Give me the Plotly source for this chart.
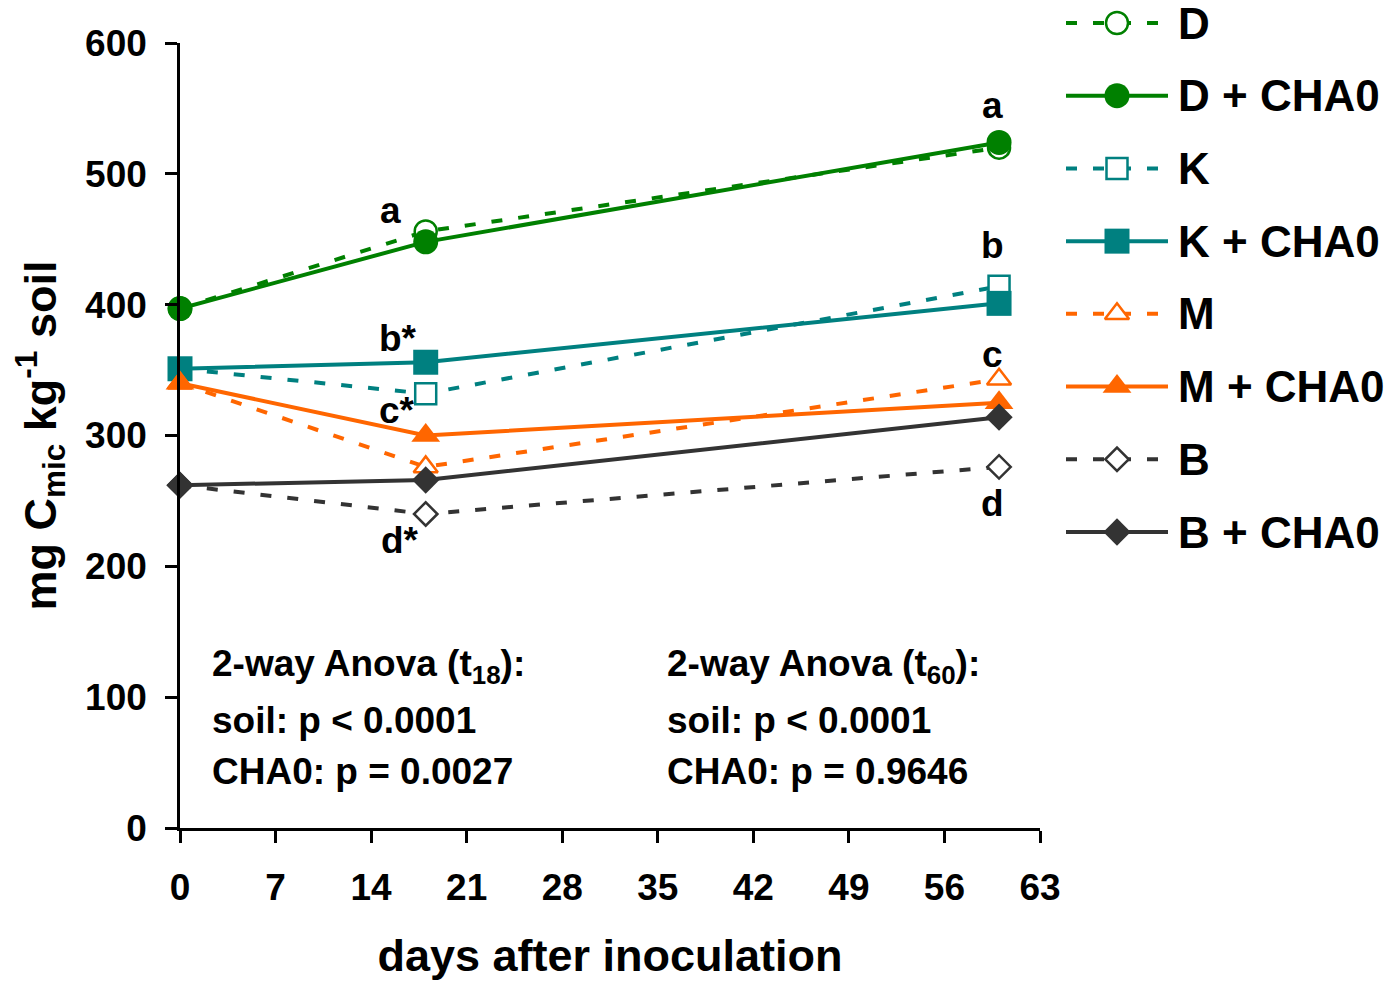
import plotly.graph_objects as go

# ---------------- data ----------------
days = [0, 18, 60]
series_names = ["D", "D + CHA0", "K", "K + CHA0", "M", "M + CHA0", "B", "B + CHA0"]
D = [397, 456, 520]
D_CHA0 = [397, 448, 524]
K = [351, 332, 414]
K_CHA0 = [351, 356, 401]
M = [340, 276, 343]
M_CHA0 = [340, 300, 325]
B = [262, 240, 276]
B_CHA0 = [262, 266, 314]
series_values = [D, D_CHA0, K, K_CHA0, M, M_CHA0, B, B_CHA0]

x_ticks = [0, 7, 14, 21, 28, 35, 42, 49, 56, 63]
y_ticks = [0, 100, 200, 300, 400, 500, 600]

# significance letters (day, value, text)
letter_days = [15.4, 16.0, 15.9, 16.1, 59.5, 59.5, 59.5, 59.5]
letter_vals = [472, 374, 319, 220, 552, 445, 362, 248]
letter_texts = ["a", "b*", "c*", "d*", "a", "b", "c", "d"]

anova_t18 = ["2-way Anova (t<sub>18</sub>):", "soil: p < 0.0001", "CHA0: p = 0.0027"]
anova_t60 = ["2-way Anova (t<sub>60</sub>):", "soil: p < 0.0001", "CHA0: p = 0.9646"]

# ---------------- styles ----------------
FONT = "Liberation Sans, Arial, sans-serif"
GREEN, TEAL, ORANGE, GREY = "#008000", "#008080", "#FF6600", "#333333"
styles = [
    dict(color=GREEN, dash=True, symbol="circle", size=22, filled=False),
    dict(color=GREEN, dash=False, symbol="circle", size=25, filled=True),
    dict(color=TEAL, dash=True, symbol="square", size=21, filled=False),
    dict(color=TEAL, dash=False, symbol="square", size=25, filled=True),
    dict(color=ORANGE, dash=True, symbol="triangle-up", size=21, filled=False),
    dict(color=ORANGE, dash=False, symbol="triangle-up", size=25, filled=True),
    dict(color=GREY, dash=True, symbol="diamond", size=18, filled=False),
    dict(color=GREY, dash=False, symbol="diamond", size=21, filled=True),
]

# the page body adds an 8px offset; work in window pixels and subtract it
OFF = 8
W, H = 1395 - OFF, 985 - OFF
ML, MR, MT, MB = 180 - OFF, 8, 4, 985 - 828
plot_w = W - ML - MR
plot_h = H - MT - MB
x_end_px = 1040 - OFF   # right end of x-axis
y_top_px = 43 - OFF     # pixel of y=600

fig = go.Figure()


def marker_for(st):
    if st["filled"]:
        return dict(symbol=st["symbol"], size=st["size"], color=st["color"],
                    line=dict(width=0, color=st["color"]))
    return dict(symbol=st["symbol"], size=st["size"], color="white",
                line=dict(width=2.5, color=st["color"]))


def line_for(st):
    return dict(color=st["color"], width=4,
                dash="11px,16px" if st["dash"] else "solid")


for name, vals, st in zip(series_names, series_values, styles):
    fig.add_trace(go.Scatter(
        x=days, y=vals, name=name, mode="lines+markers",
        line=line_for(st), marker=marker_for(st),
        cliponaxis=False, showlegend=False, xaxis="x", yaxis="y"))

# ---- hand-built legend on an overlay axis ----
n = len(series_names)
row_top_px, row_bot_px = 23 - OFF, 532 - OFF
unit = (row_bot_px - row_top_px) / (n - 1)
y2_top = -(row_top_px - MT) / unit
y2_bot = (H - MB - row_top_px) / unit
for i, (name, st) in enumerate(zip(series_names, styles)):
    fig.add_trace(go.Scatter(
        x=[0, 1], y=[i, i], mode="lines", line=line_for(st),
        showlegend=False, hoverinfo="skip", xaxis="x2", yaxis="y2", cliponaxis=False))
    fig.add_trace(go.Scatter(
        x=[0.5], y=[i], mode="markers", marker=marker_for(st),
        showlegend=False, hoverinfo="skip", xaxis="x2", yaxis="y2", cliponaxis=False))
    fig.add_annotation(x=1, y=i, xref="x2", yref="y2", text=name, showarrow=False,
                       xanchor="left", yanchor="middle", xshift=8,
                       font=dict(family=FONT, size=44, color="black", weight="bold"))

# significance letters
for xd, yv, t in zip(letter_days, letter_vals, letter_texts):
    fig.add_annotation(x=xd, y=yv, xref="x", yref="y", text=t, showarrow=False,
                       xanchor="center", yanchor="middle",
                       font=dict(family=FONT, size=37, color="black", weight="bold"))

# anova texts
anova_y = [124, 82, 43]
for block, xd in ((anova_t18, 2.2), (anova_t60, 35.5)):
    for t, yv in zip(block, anova_y):
        fig.add_annotation(x=xd, y=yv, xref="x", yref="y", text=t, showarrow=False,
                           xanchor="left", yanchor="middle",
                           font=dict(family=FONT, size=37, color="black", weight="bold"))

x_dom_end = (x_end_px - ML) / plot_w
y_dom_top = (H - MB - y_top_px) / plot_h
leg_x0 = (1066 - OFF - ML) / plot_w
leg_x1 = (1168 - OFF - ML) / plot_w

axis_common = dict(showline=True, linecolor="black", linewidth=2.5, ticks="outside",
                   ticklen=12, tickwidth=2.5, tickcolor="black", showgrid=False,
                   zeroline=False, mirror=False, automargin=False,
                   tickfont=dict(family=FONT, size=37, color="black", weight="bold"))

fig.update_layout(
    width=W, height=H,
    margin=dict(l=ML, r=MR, t=MT, b=MB, pad=0, autoexpand=False),
    plot_bgcolor="white", paper_bgcolor="white",
    font=dict(family=FONT, color="black"),
    xaxis=dict(domain=[0, x_dom_end], range=[0, 63], tickvals=x_ticks,
               ticklabelstandoff=13,
               title=dict(text="days after inoculation", standoff=33,
                          font=dict(family=FONT, size=45, color="black", weight="bold")),
               **axis_common),
    yaxis=dict(domain=[0, y_dom_top], range=[0, 600], tickvals=y_ticks,
               ticklabelstandoff=11,
               title=dict(text="mg C<sub>mic</sub> kg<sup>-1</sup> soil", standoff=16,
                          font=dict(family=FONT, size=45, color="black", weight="bold")),
               **axis_common),
    xaxis2=dict(domain=[leg_x0, leg_x1], range=[0, 1], visible=False, anchor="y2",
                fixedrange=True),
    yaxis2=dict(domain=[0, 1], range=[y2_bot, y2_top], visible=False, anchor="x2",
                fixedrange=True),
)

fig.write_html("out.html")
